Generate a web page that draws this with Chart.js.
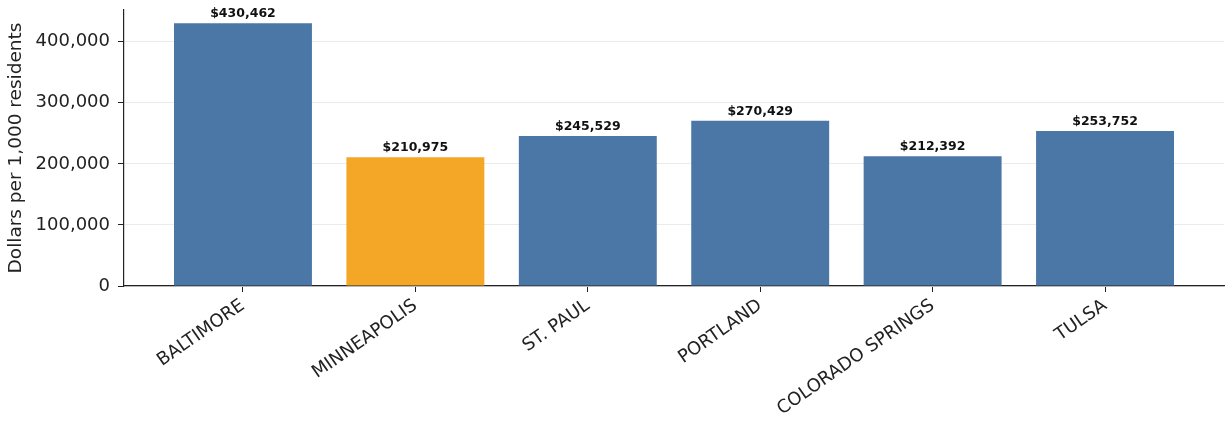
<!DOCTYPE html>
<html>
<head>
<meta charset="utf-8">
<script src="https://cdn.jsdelivr.net/npm/chart.js@4"></script>
<style>
  html, body { margin: 0; padding: 0; background: #fff; }
  #wrap { width: 1225px; height: 423px; }
</style>
</head>
<body>
<div id="wrap"><canvas id="spendChart" width="1225" height="423"></canvas></div>
<script>
const cities = ['BALTIMORE', 'MINNEAPOLIS', 'ST. PAUL', 'PORTLAND', 'COLORADO SPRINGS', 'TULSA'];
const dollarsPer1000 = [430462, 210975, 245529, 270429, 212392, 253752];
const highlightCity = 'MINNEAPOLIS';
const yTicks = [0, 100000, 200000, 300000, 400000];

const BLUE = '#4B77A7';
const ORANGE = '#F4A627';
const FONT = "'DejaVu Sans', sans-serif";

// value labels above each bar
const barLabels = {
  id: 'barLabels',
  afterDatasetsDraw(chart) {
    const ctx = chart.ctx;
    const meta = chart.getDatasetMeta(0);
    ctx.save();
    ctx.font = "bold 12.5px " + FONT;
    ctx.fillStyle = '#111';
    ctx.textAlign = 'center';
    ctx.textBaseline = 'bottom';
    meta.data.forEach((bar, i) => {
      ctx.fillText('$' + dollarsPer1000[i].toLocaleString('en-US'), bar.x, bar.y - 3);
    });
    ctx.restore();
  }
};

const ctx = document.getElementById('spendChart').getContext('2d');
window.spendChart = new Chart(ctx, {
  type: 'bar',
  data: {
    datasets: [{
      data: dollarsPer1000.map((v, i) => ({ x: i, y: v })),
      backgroundColor: cities.map(c => c === highlightCity ? ORANGE : BLUE),
      borderWidth: 0,
      barPercentage: 0.8,
      categoryPercentage: 1.0
    }]
  },
  options: {
    responsive: false,
    animation: false,
    layout: { padding: { top: 10, right: 1, left: 0, bottom: 0 } },
    plugins: {
      legend: { display: false },
      tooltip: { enabled: false }
    },
    scales: {
      x: {
        type: 'linear',
        min: -0.69,
        max: 5.69,
        offset: false,
        afterBuildTicks: s => { s.ticks = cities.map((c, i) => ({ value: i })); },
        afterFit: s => { s.height = 137; s.paddingLeft = 0; s.paddingRight = 0; },
        grid: { offset: false, drawOnChartArea: false, drawTicks: true, tickLength: 6, tickColor: '#222' },
        border: { color: '#222', width: 1.2 },
        ticks: {
          autoSkip: false,
          minRotation: 35,
          maxRotation: 35,
          padding: 3,
          color: '#222',
          font: { family: FONT, size: 18 },
          callback: v => cities[v] || ''
        }
      },
      y: {
        min: 0,
        max: 452000,
        afterBuildTicks: s => { s.ticks = yTicks.map(v => ({ value: v })); },
        afterFit: s => { s.width = 124; s.paddingTop = 0; s.paddingBottom = 0; },
        grid: { color: '#ebebeb', lineWidth: 1, drawTicks: true, tickLength: 6, tickColor: '#222' },
        border: { color: '#222', width: 1.2 },
        ticks: {
          padding: 8,
          color: '#222',
          font: { family: FONT, size: 18 },
          callback: v => v.toLocaleString('en-US')
        },
        title: {
          display: true,
          text: 'Dollars per 1,000 residents',
          color: '#222',
          font: { family: FONT, size: 18.5 },
          padding: { top: 5, bottom: 0 }
        }
      }
    }
  },
  plugins: [barLabels]
});
</script>
</body>
</html>
